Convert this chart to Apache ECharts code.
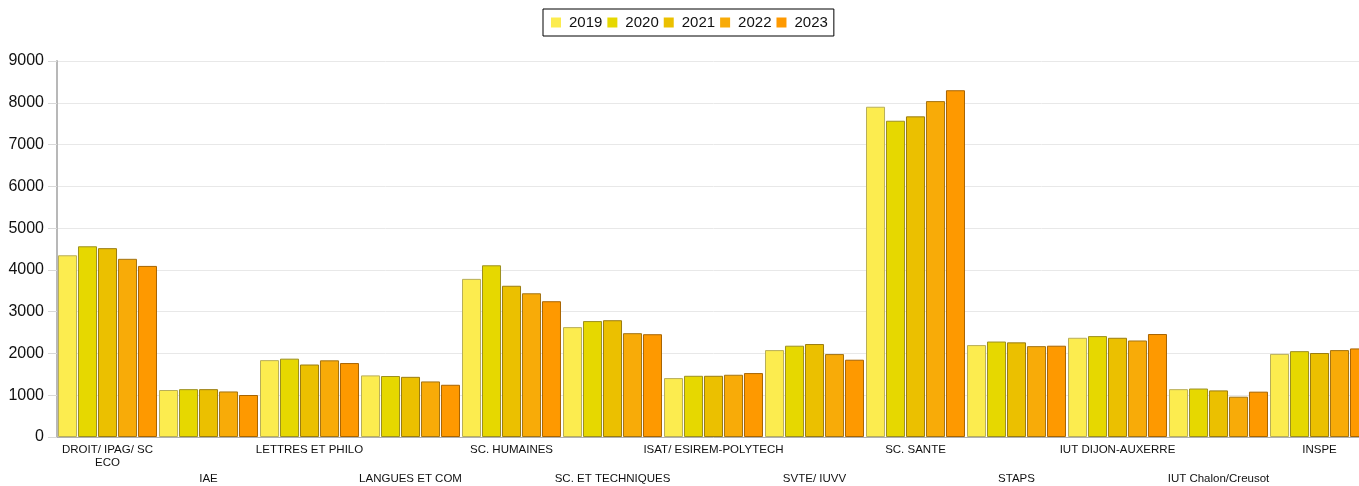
<!DOCTYPE html>
<html>
<head>
<meta charset="utf-8">
<script src="https://cdn.jsdelivr.net/npm/echarts@6/dist/echarts.min.js"></script>
<style>
html,body{margin:0;padding:0;overflow:hidden;background:#fff;}
#c{width:1370px;height:486px;}
</style>
</head>
<body>
<div id="c"></div>
<script>
const categories = ["DROIT/ IPAG/ SC\nECO","IAE","LETTRES ET PHILO","LANGUES ET COM","SC. HUMAINES","SC. ET TECHNIQUES","ISAT/ ESIREM-POLYTECH","SVTE/ IUVV","SC. SANTE","STAPS","IUT DIJON-AUXERRE","IUT Chalon/Creusot","INSPE"];
const years = ["2019","2020","2021","2022","2023"];
const v2019 = [4350,1125,1840,1475,3785,2630,1410,2080,7905,2200,2375,1145,1990];
const v2020 = [4565,1145,1875,1460,4110,2775,1465,2185,7570,2285,2415,1160,2055];
const v2021 = [4520,1145,1735,1440,3620,2795,1465,2225,7675,2265,2375,1115,2010];
const v2022 = [4265,1090,1835,1330,3440,2485,1490,1985,8040,2175,2310,965,2080];
const v2023 = [4095,1005,1770,1250,3250,2460,1530,1850,8300,2185,2465,1085,2120];
const yTicks = [0,1000,2000,3000,4000,5000,6000,7000,8000,9000];

const values = [v2019,v2020,v2021,v2022,v2023];
const fills = ["#fcec4f","#e6d800","#ebc000","#f8ab08","#fe9900"];
const borders = ["#b8ae5a","#9c9020","#9a7c10","#a47414","#a86400"];

const chart = echarts.init(document.getElementById('c'));
chart.setOption({
  animation:false,
  textStyle:{fontFamily:'Liberation Sans, Arial, sans-serif'},
  legend:{
    data:years.map(y=>({name:y,itemStyle:{borderWidth:0}})), left:543, top:9,
    itemWidth:10, itemHeight:10, icon:'rect', itemGap:5,
    padding:[6,6,6,8],
    borderColor:'#000', borderWidth:1,
    itemStyle:{borderWidth:0},
    textStyle:{fontSize:15,color:'#111',padding:[0,0,0,3],fontFamily:'Liberation Sans, Arial, sans-serif'}
  },
  grid:{left:57,right:0,top:61,bottom:49,containLabel:false},
  xAxis:[{
    type:'category', data:categories,
    axisLine:{lineStyle:{color:'#b0b0b0',width:1}},
    axisTick:{alignWithLabel:true,length:4,lineStyle:{color:'#b0b0b0'}},
    axisLabel:{interval:(i)=>i%2===0, margin:6, fontSize:11.5, color:'#111', lineHeight:13}
  },{
    type:'category', data:categories, position:'bottom',
    axisLine:{show:false}, axisTick:{show:false},
    axisLabel:{interval:(i)=>i%2===1, margin:36, fontSize:11.5, color:'#111'}
  }],
  yAxis:{
    type:'value', min:0, max:9000, interval:1000,
    axisLine:{show:true,lineStyle:{color:'#b8b8b8',width:2}},
    axisTick:{show:true,length:9,lineStyle:{color:'#d8d8d8'}},
    axisLabel:{fontSize:16,color:'#111',margin:13,
      formatter:(v)=> yTicks.includes(v) ? String(v) : ''},
    splitLine:{lineStyle:{color:'#e8e8e8'}}
  },
  series: years.map((y,k)=>({
    name:y, type:'bar', data:values[k], xAxisIndex:0,
    barCategoryGap:'2%', barGap:'5%',
    itemStyle:{color:fills[k],borderColor:borders[k],borderWidth:1}
  }))
});
</script>
</body>
</html>
